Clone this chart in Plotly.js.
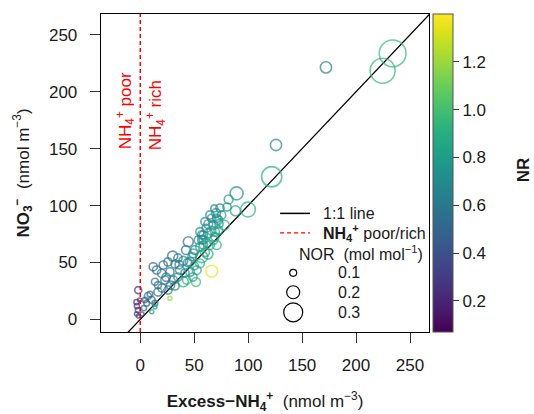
<!DOCTYPE html>
<html>
<head>
<meta charset="utf-8">
<script src="https://cdn.plot.ly/plotly-3.0.1.min.js"></script>
<style>html,body{margin:0;padding:0;background:#fff;}#chart{width:534px;height:414px;}</style>
</head>
<body>
<div id="chart"></div>
<script>
// Excess-NH4+ (nmol m-3)
const excessNH4 = [233.9, 224.6, 172.1, 125.8, 121.8, 99.8, 89.3, 81.9, 88.2, 68.6,
  64.6, 72.3, 75.4, 60.0, 67.7, 63.0, 70.8, 66.2, 55.3, 58.4,
  63.0, 69.2, 72.3, 77.8, 44.5, 53.8, 58.4, 67.7, 64.6, 55.3,
  56.9, 69.2, 58.4, 70.8, 30.0, 21.3, 15.2, 12.0, 32.2, 39.9,
  46.1, 36.8, 27.5, 19.8, 46.1, 52.3, 66.2, 39.9, 13.6, 22.9,
  30.6, 55.3, 56.9, 49.1, 43.0, -1.9, -3.5, -3.1, -2.1, -3.5,
  -1.7, -0.7, 27.5, 10.6, 3.4, 5.9, 10.6, 13.6, 7.1, 16.4,
  20.1, 25.7, 32.2, 16.4, 34.9, 41.4, 48.8, 25.7, 34.9, 42.4,
  13.6, 50.7, 62.7, 73.9, 80.4, 70.2, 51.6, 9.0, 4.4, 1.6,
  61.0, 66.0, 73.0, 57.0, 62.0, 48.0, 44.0, 36.0, 24.0, 28.0,
  50.0, 60.0];
// NO3- (nmol m-3)
const nitrate = [233.7, 218.5, 221.4, 153.2, 125.3, 96.5, 110.7, 105.4, 95.4, 97.5,
  91.7, 87.3, 91.7, 85.8, 82.9, 83.7, 88.8, 88.8, 77.0, 74.1,
  75.6, 77.0, 78.5, 82.9, 68.2, 69.7, 69.7, 69.7, 65.3, 63.8,
  74.1, 72.6, 65.3, 65.3, 55.6, 47.7, 43.3, 46.2, 48.6, 51.5,
  50.6, 43.3, 41.8, 40.4, 41.8, 43.3, 42.4, 33.0, 33.0, 34.5,
  34.5, 49.2, 55.0, 58.0, 34.5, 25.7, 15.2, 11.7, 8.2, 4.7,
  2.9, 17.0, 18.5, 6.7, 9.9, 14.1, 17.0, 14.1, 20.5, 24.0,
  27.5, 25.7, 29.3, 30.1, 37.2, 40.7, 37.2, 50.4, 53.9, 60.9,
  11.0, 60.9, 57.4, 97.8, 98.7, 93.4, 32.8, 22.2, 17.0, 4.7,
  80.0, 78.0, 84.0, 70.0, 67.0, 55.0, 50.0, 48.0, 37.0, 30.0,
  47.0, 59.0];
// NOR (mol mol-1) -> circle size
const nor = [0.43, 0.40, 0.17, 0.17, 0.32, 0.23, 0.20, 0.13, 0.15, 0.10,
  0.12, 0.13, 0.12, 0.12, 0.13, 0.13, 0.12, 0.12, 0.12, 0.12,
  0.13, 0.13, 0.13, 0.15, 0.15, 0.12, 0.12, 0.13, 0.13, 0.12,
  0.12, 0.12, 0.12, 0.13, 0.15, 0.12, 0.12, 0.12, 0.12, 0.13,
  0.13, 0.13, 0.12, 0.12, 0.13, 0.13, 0.18, 0.15, 0.10, 0.12,
  0.12, 0.13, 0.18, 0.13, 0.12, 0.10, 0.07, 0.07, 0.07, 0.05,
  0.05, 0.05, 0.05, 0.05, 0.07, 0.08, 0.10, 0.08, 0.10, 0.12,
  0.12, 0.12, 0.12, 0.10, 0.12, 0.12, 0.12, 0.12, 0.12, 0.13,
  0.05, 0.13, 0.15, 0.12, 0.12, 0.13, 0.13, 0.08, 0.07, 0.05,
  0.12, 0.13, 0.12, 0.12, 0.12, 0.12, 0.12, 0.12, 0.12, 0.12,
  0.12, 0.13];
// NR -> colour
const nr = [0.97, 0.95, 0.65, 0.70, 0.92, 0.92, 0.75, 0.75, 0.85, 0.70,
  0.72, 0.75, 0.78, 0.68, 0.72, 0.70, 0.72, 0.70, 0.68, 0.70,
  0.75, 0.80, 0.85, 0.90, 0.55, 0.68, 0.70, 0.88, 0.90, 0.85,
  0.68, 0.75, 0.70, 0.92, 0.55, 0.55, 0.55, 0.50, 0.62, 0.65,
  0.68, 0.65, 0.60, 0.60, 0.78, 0.88, 1.35, 0.92, 0.55, 0.60,
  0.62, 0.90, 0.88, 0.70, 0.90, 0.28, 0.25, 0.25, 0.28, 0.25,
  0.30, 0.30, 1.20, 0.80, 0.55, 0.50, 0.52, 0.55, 0.55, 0.58,
  0.58, 0.60, 0.62, 0.55, 0.65, 0.70, 0.80, 0.58, 0.62, 0.62,
  0.80, 0.72, 0.88, 0.70, 0.75, 0.70, 0.95, 0.50, 0.45, 0.40,
  0.72, 0.75, 0.78, 0.70, 0.78, 0.68, 0.65, 0.62, 0.58, 0.62,
  0.80, 0.85];

const xTicks = [0, 50, 100, 150, 200, 250];
const yTicks = [0, 50, 100, 150, 200, 250];
const nrTicks = [0.2, 0.4, 0.6, 0.8, 1.0, 1.2];
const legendNOR = [0.1, 0.2, 0.3];

const xRange = [-36.4, 267.6];
const yRange = [-11.1, 268.3];
const sizeOf = v => v * 60 + 1;

const FONT = 'Liberation Sans, Arial, sans-serif';
const TXT = '#1a1a1a';
const FS = 17;
const LFS = 16;

const traces = [
  {
    type: 'scatter', mode: 'lines',
    x: [Math.min(xRange[0], yRange[0]), Math.max(xRange[1], yRange[1])],
    y: [Math.min(xRange[0], yRange[0]), Math.max(xRange[1], yRange[1])],
    line: {color: '#000', width: 1.3},
    showlegend: false, hoverinfo: 'skip'
  },
  {
    type: 'scatter', mode: 'markers',
    x: excessNH4, y: nitrate,
    marker: {
      symbol: 'circle-open',
      size: nor.map(sizeOf),
      color: nr,
      colorscale: 'Viridis',
      cmin: 0.07, cmax: 1.40,
      line: {width: 1.6},
      showscale: true,
      colorbar: {
        x: 1.012, xanchor: 'left', xpad: 0, ypad: 0,
        y: 0.5, yanchor: 'middle', len: 1, lenmode: 'fraction',
        thickness: 20, thicknessmode: 'pixels',
        outlinewidth: 1, outlinecolor: '#555',
        ticks: 'outside', ticklen: 6, tickcolor: '#333', tickwidth: 1,
        ticklabelstandoff: 14,
        tickvals: nrTicks, ticktext: nrTicks.map(v => v.toFixed(1)),
        tickfont: {family: FONT, size: FS, color: TXT}
      }
    },
    showlegend: false, hoverinfo: 'skip'
  }
];

// legend layout (paper coordinates)
const L = {lineX0: 0.546, lineX1: 0.637, txtX: 0.670, y1: 0.373, y2: 0.312,
  norX: 0.597, norY: 0.249, circX: 0.586, circY: [0.186, 0.125, 0.062], labX: 0.715};

const shapes = [
  {type: 'line', xref: 'x', yref: 'paper', x0: 0, x1: 0, y0: 0, y1: 1,
   line: {color: '#ff0000', width: 1.5, dash: '4px,3px'}},
  {type: 'line', xref: 'paper', yref: 'paper', x0: L.lineX0, x1: L.lineX1, y0: L.y1, y1: L.y1,
   line: {color: '#000', width: 1.5}},
  {type: 'line', xref: 'paper', yref: 'paper', x0: L.lineX0, x1: L.lineX1, y0: L.y2, y1: L.y2,
   line: {color: '#ff0000', width: 1.3, dash: '4px,3px'}}
];
legendNOR.forEach((v, i) => {
  const r = sizeOf(v) / 2;
  shapes.push({type: 'circle', xref: 'paper', yref: 'paper',
    xsizemode: 'pixel', ysizemode: 'pixel', xanchor: L.circX, yanchor: L.circY[i],
    x0: -r, x1: r, y0: -r, y1: r, line: {color: '#000', width: 1.2}});
});

const annotations = [
  {xref: 'paper', yref: 'paper', x: 0.073, y: 0.697, xanchor: 'center', yanchor: 'middle',
   text: 'NH<sub>4</sub><sup>+</sup> poor',
   textangle: -90, showarrow: false, font: {family: FONT, size: FS, color: '#ff0000'}},
  {xref: 'paper', yref: 'paper', x: 0.165, y: 0.682, xanchor: 'center', yanchor: 'middle',
   text: 'NH<sub>4</sub><sup>+</sup> rich',
   textangle: -90, showarrow: false, font: {family: FONT, size: FS, color: '#ff0000'}},
  {xref: 'paper', yref: 'paper', x: L.txtX, y: L.y1, xanchor: 'left', yanchor: 'middle',
   text: '1:1 line', showarrow: false, font: {family: FONT, size: LFS, color: TXT}},
  {xref: 'paper', yref: 'paper', x: L.txtX, y: L.y2, xanchor: 'left', yanchor: 'middle',
   text: '<b>NH<sub>4</sub><sup>+</sup></b> poor/rich', showarrow: false, font: {family: FONT, size: LFS, color: TXT}},
  {xref: 'paper', yref: 'paper', x: L.norX, y: L.norY, xanchor: 'left', yanchor: 'middle',
   text: 'NOR  (mol mol<sup>−1</sup>)', showarrow: false, font: {family: FONT, size: LFS, color: TXT}},
  {xref: 'paper', yref: 'paper', x: 1.287, y: 0.509, xanchor: 'center', yanchor: 'middle',
   text: '<b>NR</b>', textangle: -90,
   showarrow: false, font: {family: FONT, size: FS, color: TXT}}
];
legendNOR.forEach((v, i) => {
  annotations.push({xref: 'paper', yref: 'paper', x: L.labX, y: L.circY[i], xanchor: 'left', yanchor: 'middle',
    text: v.toFixed(1), showarrow: false, font: {family: FONT, size: LFS, color: TXT}});
});

const axisCommon = {
  showgrid: false, zeroline: false, showline: true, linecolor: '#000', linewidth: 1.3,
  mirror: true, ticks: 'outside', ticklen: 10, tickwidth: 1, tickcolor: '#333',
  tickfont: {family: FONT, size: FS, color: TXT}
};

const layout = {
  width: 534, height: 414,
  margin: {l: 101, r: 105, t: 14, b: 82},
  paper_bgcolor: '#fff', plot_bgcolor: '#fff',
  font: {family: FONT, color: TXT},
  xaxis: Object.assign({}, axisCommon, {
    range: xRange, tickvals: xTicks, ticklabelstandoff: 7,
    title: {text: '<b>Excess−NH<sub>4</sub><sup>+</sup></b>  (nmol m<sup>−3</sup>)',
      font: {family: FONT, size: FS, color: TXT}, standoff: 22}
  }),
  yaxis: Object.assign({}, axisCommon, {
    range: yRange, tickvals: yTicks, ticklabelstandoff: 9,
    title: {text: '<b>NO<sub>3</sub><sup>−</sup></b>  (nmol m<sup>−3</sup>)',
      font: {family: FONT, size: FS, color: TXT}, standoff: 15}
  }),
  shapes: shapes,
  annotations: annotations,
  showlegend: false
};

Plotly.newPlot('chart', traces, layout, {displayModeBar: false, staticPlot: true});
</script>
</body>
</html>
